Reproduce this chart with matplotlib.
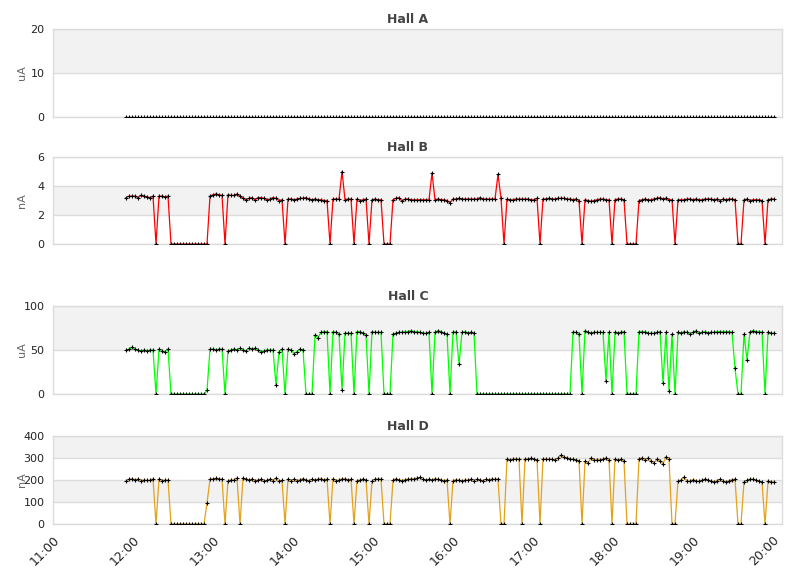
import matplotlib
matplotlib.use("Agg")
import matplotlib.pyplot as plt
import matplotlib.dates as mdates
import numpy as np
import pandas as pd

# samples every 135 s from 11:54:45 to 20:00:45
times = pd.date_range("2024-01-01 11:54:45", periods=217, freq="135s")

hall_a = [
    0, 0, 0, 0, 0, 0, 0, 0, 0, 0, 0, 0, 0, 0, 0, 0, 0, 0, 0, 0,
    0, 0, 0, 0, 0, 0, 0, 0, 0, 0, 0, 0, 0, 0, 0, 0, 0, 0, 0, 0,
    0, 0, 0, 0, 0, 0, 0, 0, 0, 0, 0, 0, 0, 0, 0, 0, 0, 0, 0, 0,
    0, 0, 0, 0, 0, 0, 0, 0, 0, 0, 0, 0, 0, 0, 0, 0, 0, 0, 0, 0,
    0, 0, 0, 0, 0, 0, 0, 0, 0, 0, 0, 0, 0, 0, 0, 0, 0, 0, 0, 0,
    0, 0, 0, 0, 0, 0, 0, 0, 0, 0, 0, 0, 0, 0, 0, 0, 0, 0, 0, 0,
    0, 0, 0, 0, 0, 0, 0, 0, 0, 0, 0, 0, 0, 0, 0, 0, 0, 0, 0, 0,
    0, 0, 0, 0, 0, 0, 0, 0, 0, 0, 0, 0, 0, 0, 0, 0, 0, 0, 0, 0,
    0, 0, 0, 0, 0, 0, 0, 0, 0, 0, 0, 0, 0, 0, 0, 0, 0, 0, 0, 0,
    0, 0, 0, 0, 0, 0, 0, 0, 0, 0, 0, 0, 0, 0, 0, 0, 0, 0, 0, 0,
    0, 0, 0, 0, 0, 0, 0, 0, 0, 0, 0, 0, 0, 0, 0, 0, 0,
]

hall_b = [
    3.2, 3.3, 3.3, 3.3, 3.2, 3.35, 3.3, 3.25, 3.2, 3.3,
    0, 3.3, 3.3, 3.25, 3.3, 0, 0, 0, 0, 0,
    0, 0, 0, 0, 0, 0, 0, 0, 3.3, 3.4,
    3.45, 3.4, 3.35, 0, 3.4, 3.35, 3.35, 3.45, 3.3, 3.15,
    3.05, 3.15, 3.2, 3.05, 3.2, 3.2, 3.15, 3.05, 3.1, 3.2,
    3.15, 3.0, 3.05, 0, 3.1, 3.1, 3.05, 3.1, 3.15, 3.15,
    3.2, 3.1, 3.05, 3.1, 3.05, 3.05, 3.0, 3.0, 0, 3.1,
    3.1, 3.1, 5.0, 3.05, 3.1, 3.1, 0, 3.1, 3.0, 3.05,
    3.1, 0, 3.05, 3.1, 3.05, 3.05, 0, 0, 0, 3.05,
    3.15, 3.2, 2.95, 3.1, 3.1, 3.05, 3.05, 3.05, 3.05, 3.05,
    3.05, 3.05, 4.9, 3.05, 3.1, 3.05, 3.05, 3.0, 2.85, 3.1,
    3.1, 3.15, 3.1, 3.1, 3.1, 3.1, 3.1, 3.1, 3.2, 3.1,
    3.1, 3.1, 3.1, 3.1, 4.8, 3.15, 0, 3.1, 3.05, 3.05,
    3.1, 3.1, 3.1, 3.1, 3.1, 3.05, 3.05, 3.15, 0, 3.1,
    3.1, 3.15, 3.1, 3.1, 3.15, 3.15, 3.15, 3.1, 3.1, 3.05,
    3.1, 3.0, 0, 3.05, 3.0, 2.95, 3.0, 3.05, 3.1, 3.1,
    3.05, 3.05, 0, 3.05, 3.1, 3.1, 3.05, 0, 0, 0,
    0, 3.0, 3.05, 3.1, 3.05, 3.05, 3.1, 3.15, 3.2, 3.1,
    3.15, 3.05, 3.05, 0, 3.05, 3.05, 3.05, 3.1, 3.1, 3.05,
    3.1, 3.05, 3.05, 3.1, 3.1, 3.1, 3.05, 3.1, 3.0, 3.1,
    3.05, 3.1, 3.1, 3.05, 0, 0, 3.05, 3.1, 3.0, 3.05,
    3.05, 3.05, 3.0, 0, 3.05, 3.1, 3.1,
]

hall_c = [
    50, 51, 53, 51, 50, 49, 50, 49, 50, 50,
    0, 51, 49, 48, 51, 0, 0, 0, 0, 0,
    0, 0, 0, 0, 0, 0, 0, 4, 51, 51,
    50, 51, 51, 0, 49, 50, 51, 50, 52, 50,
    49, 52, 51, 52, 50, 48, 49, 50, 50, 50,
    10, 48, 51, 0, 51, 50, 46, 48, 51, 50,
    0, 0, 0, 67, 64, 70, 71, 71, 0, 71,
    70, 68, 4, 69, 69, 69, 0, 71, 71, 69,
    67, 0, 71, 70, 70, 70, 0, 0, 0, 68,
    69, 70, 70, 71, 71, 72, 71, 71, 70, 69,
    69, 70, 0, 70, 72, 71, 69, 68, 0, 70,
    71, 34, 70, 71, 69, 70, 69, 0, 0, 0,
    0, 0, 0, 0, 0, 0, 0, 0, 0, 0,
    0, 0, 0, 0, 0, 0, 0, 0, 0, 0,
    0, 0, 0, 0, 0, 0, 0, 0, 0, 70,
    70, 68, 0, 72, 70, 69, 70, 70, 70, 70,
    15, 70, 0, 70, 69, 70, 71, 0, 0, 0,
    0, 71, 71, 71, 69, 69, 69, 70, 71, 12,
    70, 3, 68, 0, 70, 69, 71, 70, 68, 70,
    72, 69, 70, 71, 69, 70, 70, 71, 71, 71,
    71, 71, 70, 29, 0, 0, 68, 39, 71, 72,
    71, 71, 70, 0, 70, 69, 69,
]

hall_d = [
    195, 203, 206, 201, 204, 196, 201, 198, 199, 205,
    0, 205, 197, 199, 200, 0, 0, 0, 0, 0,
    0, 0, 0, 0, 0, 0, 0, 95, 203, 206,
    207, 205, 204, 0, 197, 200, 200, 209, 0, 209,
    205, 198, 205, 197, 200, 203, 194, 198, 203, 197,
    209, 194, 198, 0, 205, 197, 203, 196, 202, 206,
    200, 197, 203, 200, 203, 206, 200, 204, 0, 206,
    197, 200, 205, 206, 200, 203, 0, 197, 200, 204,
    200, 0, 194, 203, 206, 203, 0, 0, 0, 198,
    206, 200, 197, 202, 203, 205, 206, 208, 212, 203,
    200, 203, 200, 206, 203, 200, 197, 200, 0, 197,
    202, 200, 194, 200, 200, 203, 197, 203, 200, 197,
    203, 200, 205, 203, 205, 0, 0, 294, 292, 295,
    297, 294, 0, 294, 297, 298, 295, 291, 0, 297,
    294, 294, 294, 291, 300, 312, 303, 300, 297, 294,
    291, 288, 0, 285, 278, 300, 290, 293, 292, 294,
    302, 290, 0, 296, 290, 294, 285, 0, 0, 0,
    0, 297, 300, 292, 300, 287, 278, 294, 286, 274,
    306, 295, 0, 0, 194, 200, 212, 197, 194, 202,
    197, 194, 198, 204, 200, 194, 191, 197, 203, 194,
    191, 197, 202, 203, 0, 0, 191, 198, 203, 204,
    198, 194, 191, 0, 194, 191, 191,
]

titles = ["Hall A", "Hall B", "Hall C", "Hall D"]
units = ["uA", "nA", "uA", "nA"]
series = [hall_a, hall_b, hall_c, hall_d]
colors = [None, "#ff0000", "#00ff00", "#e3a21a"]
yticks = [[0, 10, 20], [0, 2, 4, 6], [0, 50, 100], [0, 100, 200, 300, 400]]

W, H = 811, 578
# axes top / bottom in pixels
boxes = [(29, 117), (157, 244), (306, 394), (436, 524)]
left_px, right_px = 53, 782

fig = plt.figure(figsize=(W / 100, H / 100), dpi=100)
fig.patch.set_facecolor("white")

xmin = pd.Timestamp("2024-01-01 11:00:00")
xmax = pd.Timestamp("2024-01-01 20:06:45")

axes = []
for i in range(4):
    top, bot = boxes[i]
    ax = fig.add_axes([left_px / W, (H - bot) / H, (right_px - left_px) / W, (bot - top) / H])
    axes.append(ax)
    ticks = yticks[i]
    # alternating bands
    for k in range(len(ticks) - 1):
        if k % 2 == 1:
            ax.axhspan(ticks[k], ticks[k + 1], color="#f2f2f2", zorder=0, lw=0)
    for t in ticks:
        ax.axhline(t, color="#dcdcdc", lw=1, zorder=0.5)
    if colors[i] is not None:
        ax.plot(times, series[i], color=colors[i], lw=0.9, zorder=2)
    ax.plot(times, series[i], ls="none", marker="+", ms=2.6, mew=0.8, color="black", zorder=3)
    ax.set_ylim(ticks[0], ticks[-1])
    ax.set_yticks(ticks)
    ax.set_xlim(xmin, xmax)
    for s in ax.spines.values():
        s.set_color("#dcdcdc")
        s.set_linewidth(1)
        s.set_zorder(2.5)
    ax.tick_params(axis="y", length=0, pad=6, labelsize=8, labelcolor="#222222")
    ax.tick_params(axis="x", length=0, pad=7, labelsize=9, labelcolor="#222222")
    ax.set_ylabel(units[i], fontsize=8, color="#666666")
    ax.yaxis.set_label_coords(-0.035, 0.5)
    fig.text(0.503, (H - (top - 6)) / H, titles[i], ha="center", va="baseline",
             fontsize=9, fontweight="bold", color="#444444")
    if i < 3:
        ax.tick_params(axis="x", labelbottom=False)

ax = axes[-1]
ax.xaxis.set_major_locator(mdates.HourLocator())
ax.xaxis.set_major_formatter(mdates.DateFormatter("%H:%M"))
plt.setp(ax.get_xticklabels(), rotation=45, ha="right", rotation_mode="anchor")

fig.savefig("out.png", dpi=100)
